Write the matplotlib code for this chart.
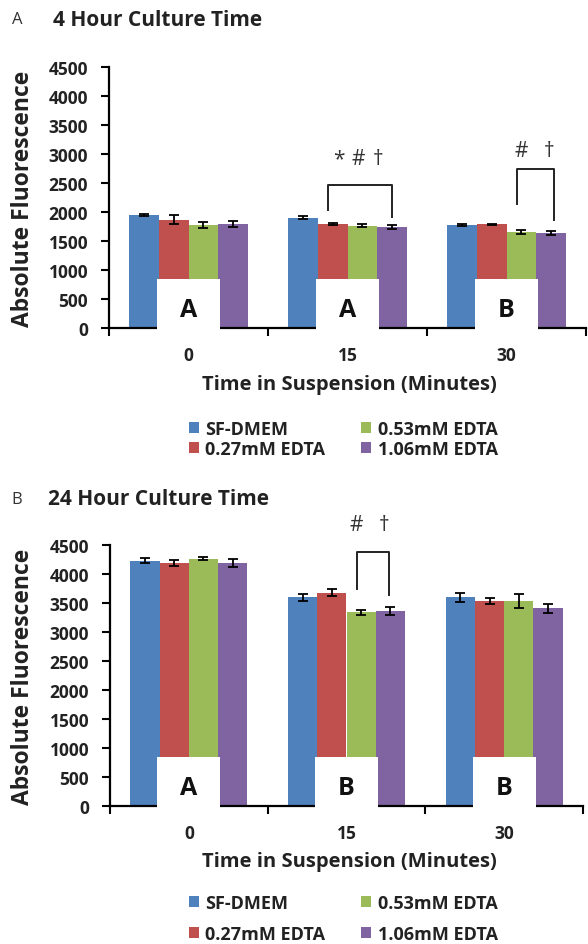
import matplotlib
matplotlib.use("Agg")
import matplotlib.pyplot as plt
from matplotlib.patches import Rectangle
import numpy as np

plt.rcParams['font.family'] = ['Open Sans', 'DejaVu Sans']

# ---------------- data ----------------
times = ["0", "15", "30"]
series = ["SF-DMEM", "0.27mM EDTA", "0.53mM EDTA", "1.06mM EDTA"]
colors = ["#4F81BD", "#C0504D", "#9BBB59", "#8064A2"]

h4_sf = [1945, 1905, 1770]
h4_027 = [1870, 1790, 1785]
h4_053 = [1780, 1765, 1655]
h4_106 = [1790, 1740, 1635]
h4_sf_err = [20, 20, 15]
h4_027_err = [80, 15, 15]
h4_053_err = [50, 20, 40]
h4_106_err = [50, 35, 35]

h24_sf = [4230, 3600, 3600]
h24_027 = [4185, 3680, 3530]
h24_053 = [4260, 3340, 3530]
h24_106 = [4195, 3355, 3410]
h24_sf_err = [40, 60, 80]
h24_027_err = [50, 60, 50]
h24_053_err = [25, 40, 120]
h24_106_err = [70, 70, 80]

h4_groups = ["A", "A", "B"]
h24_groups = ["A", "B", "B"]

yticks = [0, 500, 1000, 1500, 2000, 2500, 3000, 3500, 4000, 4500]

# ---------------- layout helpers ----------------
W, H = 588, 945
fig = plt.figure(figsize=(W / 100, H / 100), dpi=100)


def fx(px):
    return px / W


def fy(py):
    return 1 - py / H


TXT = "#222222"
BAR_W = 0.186


def make_panel(ax_box, vals, errs, groups, brackets, sigs, letter, title,
               title_y, xlab_y, leg_y, leg_spacing):
    left, top, right, bottom = ax_box
    ax = fig.add_axes([fx(left), fy(bottom), fx(right - left), (bottom - top) / H])
    x = np.arange(len(times))
    offs = (np.arange(4) - 1.5) * BAR_W
    handles = []
    for i in range(4):
        b = ax.bar(x + offs[i], vals[i], BAR_W, color=colors[i], zorder=2,
                   label=series[i])
        ax.errorbar(x + offs[i], vals[i], yerr=errs[i], fmt='none',
                    ecolor='black', elinewidth=1.3, capsize=3.5, capthick=1.3,
                    zorder=4)
        handles.append(b)
    # white boxes with group letters
    for xi, g in zip(x, groups):
        ax.add_patch(Rectangle((xi - 0.2, -45), 0.4, 885, facecolor='white',
                               edgecolor='none', zorder=5, clip_on=False))
        ax.text(xi, 320, g, ha='center', va='center', fontsize=18,
                fontweight='bold', color='#111111', zorder=6)
    # significance brackets
    for (xi, xl, xr, yh, yl, yr) in brackets:
        ax.plot([xi + xl, xi + xl, xi + xr, xi + xr], [yl, yh, yh, yr],
                color='#222222', lw=1.4, zorder=6, clip_on=False)
    for (xi, dx, yy, s) in sigs:
        ax.text(xi + dx, yy, s, ha='center', va='center', fontsize=15,
                color='#333333', zorder=6, clip_on=False)

    ax.set_xlim(-0.5, 2.5)
    ax.set_ylim(0, 4500)
    ax.set_yticks(yticks)
    ax.set_yticklabels([str(v) for v in yticks], fontsize=12.5,
                       fontweight='bold', color=TXT)
    ax.set_xticks([-0.5, 0.5, 1.5, 2.5])
    ax.set_xticklabels([])
    ax.set_xticks(x, minor=True)
    ax.set_xticklabels(times, minor=True, fontsize=12.5, fontweight='bold',
                       color=TXT)
    ax.tick_params(axis='x', which='major', length=6, width=1.5,
                   direction='out')
    ax.tick_params(axis='x', which='minor', length=0, pad=13)
    ax.tick_params(axis='y', length=6, width=1.5, pad=9)
    for s in ['top', 'right']:
        ax.spines[s].set_visible(False)
    for s in ['left', 'bottom']:
        ax.spines[s].set_linewidth(1.6)
        ax.spines[s].set_color('black')

    fig.text(fx(17), fy(title_y), letter, ha='center', va='center',
             fontsize=12, color='#333333')
    fig.text(fx(158), fy(title_y), title, ha='center', va='center',
             fontsize=15, fontweight='bold', color=TXT)
    fig.text(fx(23), fy((top + bottom) / 2), "Absolute Fluorescence",
             rotation=90, ha='center', va='center', fontsize=16.5,
             fontweight='bold', color=TXT)
    fig.text(fx(349), fy(xlab_y), "Time in Suspension (Minutes)",
             ha='center', va='center', fontsize=14.5, fontweight='bold',
             color=TXT)
    leg = fig.legend(handles=handles, labels=series, ncol=2,
                     loc='upper left',
                     bbox_to_anchor=(fx(189), fy(leg_y)),
                     frameon=False,
                     prop={'weight': 'bold', 'size': 13},
                     handlelength=0.55, handleheight=0.55,
                     handletextpad=0.35, columnspacing=2.0,
                     labelspacing=leg_spacing, borderpad=0, borderaxespad=0)
    for t in leg.get_texts():
        t.set_color(TXT)
    return ax


vals4 = [h4_sf, h4_027, h4_053, h4_106]
errs4 = [h4_sf_err, h4_027_err, h4_053_err, h4_106_err]
vals24 = [h24_sf, h24_027, h24_053, h24_106]
errs24 = [h24_sf_err, h24_027_err, h24_053_err, h24_106_err]

br4 = [(1, -0.12, 0.28, 2466, 2034, 1914), (2, 0.066, 0.30, 2741, 2138, 1862)]
sig4 = [(1, -0.053, 2914, "*"), (1, 0.066, 2914, "#"), (1, 0.19, 2914, "†"),
        (2, 0.09, 3060, "#"), (2, 0.27, 3060, "†")]
br24 = [(1, 0.064, 0.27, 4379, 3741, 3638)]
sig24 = [(1, 0.064, 4862, "#"), (1, 0.24, 4862, "†")]

make_panel((109, 68, 586, 329), vals4, errs4, h4_groups, br4, sig4,
           "A", "4 Hour Culture Time", 20, 385, 421, 0.1)
make_panel((110, 546, 583, 807), vals24, errs24, h24_groups, br24, sig24,
           "B", "24 Hour Culture Time", 500, 862, 895, 0.72)

fig.savefig("out.png", dpi=100)
